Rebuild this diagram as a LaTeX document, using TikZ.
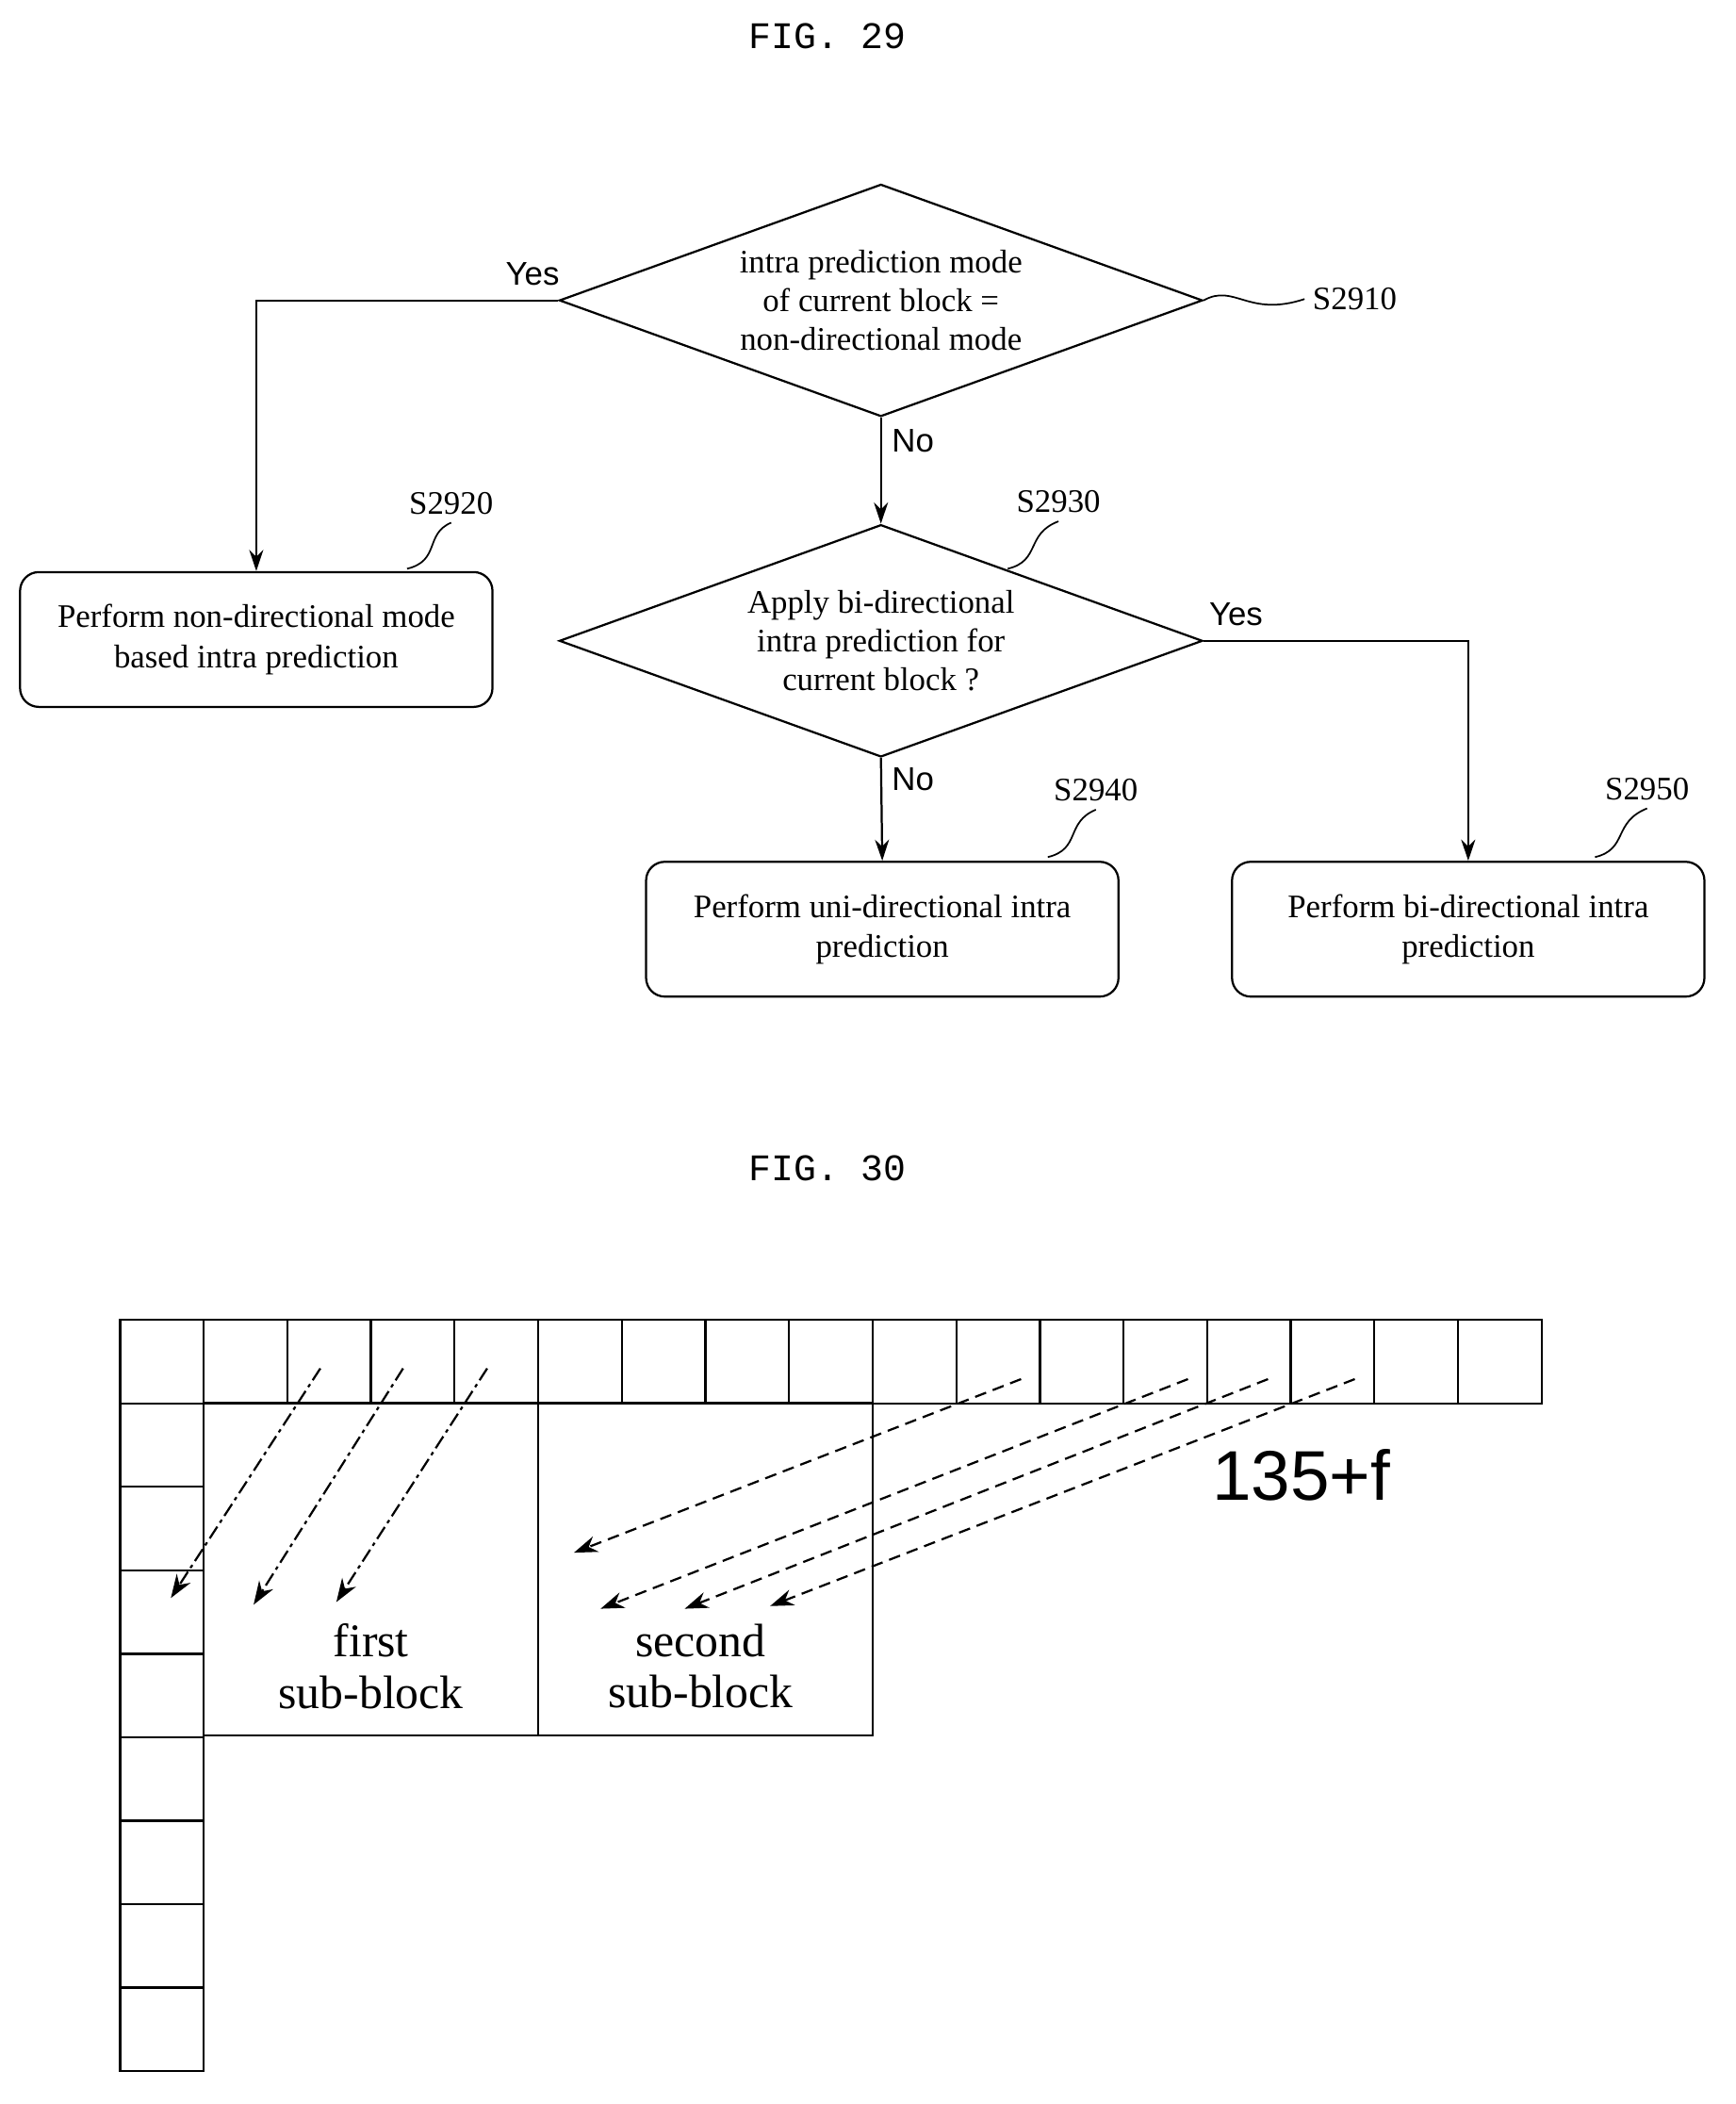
\documentclass[tikz,border=0pt]{standalone}
\usepackage{fontspec}
\setmainfont{Liberation Serif}
\newfontfamily\labelsans{Liberation Sans}
\newfontfamily\figmono{Liberation Mono}
\usetikzlibrary{shapes.geometric, arrows.meta, positioning, calc}
\tikzset{
    decision/.style={diamond,draw,line width=0.9pt,aspect=2.77,minimum width=9.64cm,
                     minimum height=3.48cm,inner sep=0pt,align=center,font=\fontsize{14}{16.5}\selectfont},
    process/.style={draw,line width=0.9pt,rounded corners=8pt,minimum width=7.08cm,
                    minimum height=2.02cm,align=center,font=\fontsize{14}{17}\selectfont},
    flow/.style={line width=0.9pt,-{Stealth[length=9pt,width=6pt]}},
    answer/.style={font=\labelsans\fontsize{14}{16}\selectfont},
    steplabel/.style={font=\fontsize{14}{16}\selectfont},
    squiggle/.style={line width=0.7pt},
    figtitle/.style={font=\figmono\fontsize{16}{18}\selectfont},
    cell/.style={draw,line width=0.9pt,minimum width=1.253cm,minimum height=1.25cm,inner sep=0pt},
    dashdot/.style={line width=0.9pt,dash pattern=on 6pt off 2pt on 1.5pt off 2pt,-{Stealth[length=10pt,width=7pt]}},
    dashline/.style={line width=0.9pt,dash pattern=on 5pt off 3pt,-{Stealth[length=10pt,width=7pt]}}
}
\begin{document}
\begin{tikzpicture}[x=0.02cm,y=-0.02cm]
    \useasboundingbox (0,0) rectangle (1300,1576);

    % FIG. 29
    \node[figtitle] (fig29) at (620,27) {FIG. 29};

    \node[decision] (d1) at (660,225) {intra prediction mode\\of current block =\\non-directional mode};
    \node[decision] (d2) at (660,480) {Apply bi-directional\\intra prediction for\\current block ?};
    \node[process] (nondir) at (192,479) {Perform non-directional mode\\based intra prediction};
    \node[process] (unidir) at (661,696) {Perform uni-directional intra\\prediction};
    \node[process] (bidir) at (1100,696) {Perform bi-directional intra\\prediction};

    \draw[flow] (d1.west) -| (nondir.north);
    \draw[flow] (d1.south) -- (d2.north);
    \draw[flow] (d2.east) -| (bidir.north);
    \draw[flow] (d2.south) -- (unidir.north);

    \node[answer] (yes1) at (399,205) {Yes};
    \node[answer] (no1) at (684,330) {No};
    \node[answer] (yes2) at (926,460) {Yes};
    \node[answer] (no2) at (684,584) {No};

    % step labels
    \node[steplabel] (s2910) at (1015,224) {S2910};
    \node[steplabel] (s2920) at (338,377) {S2920};
    \node[steplabel] (s2930) at (793,376) {S2930};
    \node[steplabel] (s2940) at (821,592) {S2940};
    \node[steplabel] (s2950) at (1234,591) {S2950};
    \draw[squiggle] (d1.east) .. controls (925,212) and (935,238) .. (s2910.west);
    \draw[squiggle] (305,426) .. controls (330,420) and (318,400) .. (s2920.south);
    \draw[squiggle] (755,426) .. controls (780,420) and (768,400) .. (s2930.south);
    \draw[squiggle] (785,642) .. controls (810,636) and (798,616) .. (s2940.south);
    \draw[squiggle] (1195,642) .. controls (1220,636) and (1208,616) .. (s2950.south);

    % FIG. 30
    \node[figtitle] (fig30) at (620,875) {FIG. 30};

    \foreach \i in {0,...,16}
        \node[cell] (top\i) at ({121.3+62.65*\i},1020) {};
    \foreach \j in {1,...,8}
        \node[cell] (left\j) at (121.3,{1020+62.5*\j}) {};
    \node[draw,line width=0.9pt,minimum width=5.02cm,minimum height=4.98cm,inner sep=0pt,
          font=\fontsize{20}{22}\selectfont,align=center,text depth=-2.3cm] (first) at (277.9,1175.5) {};
    \node[draw,line width=0.9pt,minimum width=5.02cm,minimum height=4.98cm,inner sep=0pt] (second) at (528.5,1175.5) {};
    \node[font=\fontsize{20}{22}\selectfont,align=center] (firstlbl) at (278,1248) {first\\sub-block};
    \node[font=\fontsize{20}{22}\selectfont,align=center] (secondlbl) at (525,1248) {second\\sub-block};
    \node[font=\labelsans\fontsize{30}{32}\selectfont] (angle) at (975,1105) {135+f};

    % prediction directions
    \coordinate (a1s) at (240,1025); \coordinate (a1e) at (128,1197);
    \coordinate (a2s) at (302,1025); \coordinate (a2e) at (190,1202);
    \coordinate (a3s) at (365,1025); \coordinate (a3e) at (252,1200);
    \coordinate (b1s) at (765,1033); \coordinate (b1e) at (430,1163);
    \coordinate (b2s) at (890,1033); \coordinate (b2e) at (450,1205);
    \coordinate (b3s) at (950,1033); \coordinate (b3e) at (513,1205);
    \coordinate (b4s) at (1015,1033); \coordinate (b4e) at (577,1203);
    \foreach \k in {1,2,3}
        \draw[dashdot] (a\k s) -- (a\k e);
    \foreach \k in {1,...,4}
        \draw[dashline] (b\k s) -- (b\k e);
\end{tikzpicture}
\end{document}
